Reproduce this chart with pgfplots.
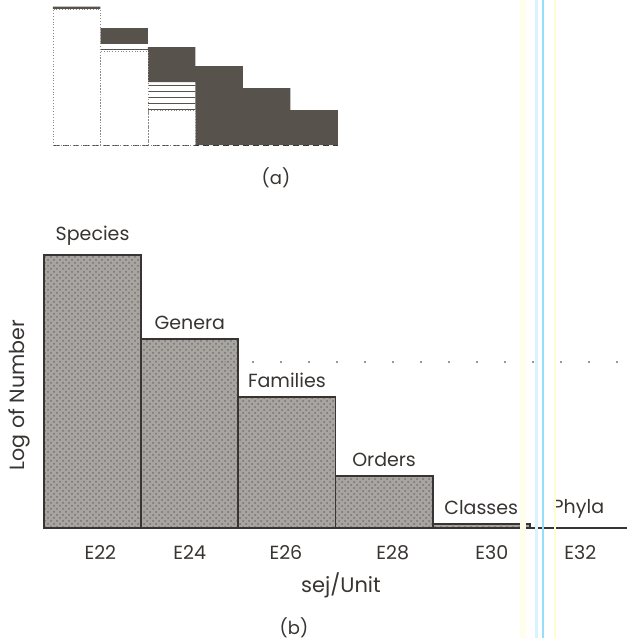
\documentclass[border=0pt]{standalone}
\usepackage{pgfplots}
\pgfplotsset{compat=1.18}
\usepackage{fontspec}
\setmainfont{Poppins}
\usetikzlibrary{patterns}
\definecolor{ink}{RGB}{55,52,50}
\definecolor{darkfill}{RGB}{88,82,76}
\definecolor{stip}{RGB}{168,164,160}
\begin{document}
\begin{tikzpicture}
\useasboundingbox (0,0) rectangle (313.5pt,-319pt);
% ---------- panel (a) ----------
\begin{axis}[at={(26.5pt,-72.5pt)}, anchor=south west, scale only axis,
  width=142.5pt, height=69pt, xmin=0, xmax=6, ymin=0, ymax=138,
  ybar stacked, bar width=1, axis lines=none, clip=false]
\addplot[fill=white, draw=black!45, densely dotted] coordinates {(0.5,136)(1.5,94)(2.5,35)(3.5,0)(4.5,0)(5.5,0)};
\addplot[pattern=horizontal lines, pattern color=darkfill, draw=none] coordinates {(0.5,0)(1.5,8)(2.5,28)(3.5,0)(4.5,0)(5.5,0)};
\addplot[fill=darkfill, draw=none] coordinates {(0.5,2.5)(1.5,15)(2.5,35)(3.5,79)(4.5,57)(5.5,35)};
\draw[ink, densely dashed, line width=0.8pt] (axis cs:0,0) -- (axis cs:6,0);
\end{axis}
\node[text=ink, font=\fontsize{9}{10}\selectfont] at (138pt,-89pt) {(a)};
% ---------- panel (b) ----------
\begin{axis}[at={(22pt,-264pt)}, anchor=south west, scale only axis,
  width=291.5pt, height=136.5pt, xmin=0, xmax=6, ymin=0, ymax=273,
  ybar, bar width=1, bar shift=0, hide y axis, axis x line*=bottom,
  axis line style={ink, line width=0.9pt, -},
  xtick={0.58,1.5,2.49,3.59,4.61,5.52},
  xticklabels={E22,E24,E26,E28,E30,E32},
  major tick length=0,
  xticklabel style={font=\fontsize{9.5}{10}\selectfont, text=ink, yshift=-5pt},
  clip=false]
\addplot[fill=stip, draw=ink, line width=0.9pt,
  nodes near coords, point meta=explicit symbolic,
  every node near coord/.append style={font=\fontsize{9.5}{11}\selectfont, text=ink, anchor=south, yshift=1pt}]
  table[meta=label] {
x h label
0.5 273 Species
1.5 189 Genera
2.5 131 Families
3.5 52 Orders
4.5 4 Classes
5.5 0 Phyla
};
\addplot[pattern=crosshatch dots, pattern color=black!55, draw=ink, line width=0.9pt] table {
x h
0.5 273
1.5 189
2.5 131
3.5 52
4.5 4
5.5 0
};
\end{axis}
\node[text=ink, font=\fontsize{10.5}{12}\selectfont] at (170.5pt,-292.5pt) {sej/Unit};
\node[text=ink, font=\fontsize{9}{10}\selectfont] at (147pt,-314pt) {(b)};
\node[text=ink, font=\fontsize{10.3}{12}\selectfont, rotate=90] at (9.5pt,-197.5pt) {Log of Number};
% faint dotted bleed-through
\draw[black!40, line width=1pt, dash pattern=on 1pt off 13pt] (112pt,-181pt) -- (312pt,-181pt);
% scan artifacts
\fill[yellow!8] (260pt,0pt) rectangle (263pt,-319pt);
\draw[cyan!15, line width=1.5pt] (268pt,0pt) -- (268pt,-319pt);
\draw[cyan!40, line width=1pt] (271.5pt,0pt) -- (271.5pt,-319pt);
\draw[yellow!18, line width=1pt] (277.5pt,0pt) -- (277.5pt,-319pt);
\end{tikzpicture}
\end{document}
